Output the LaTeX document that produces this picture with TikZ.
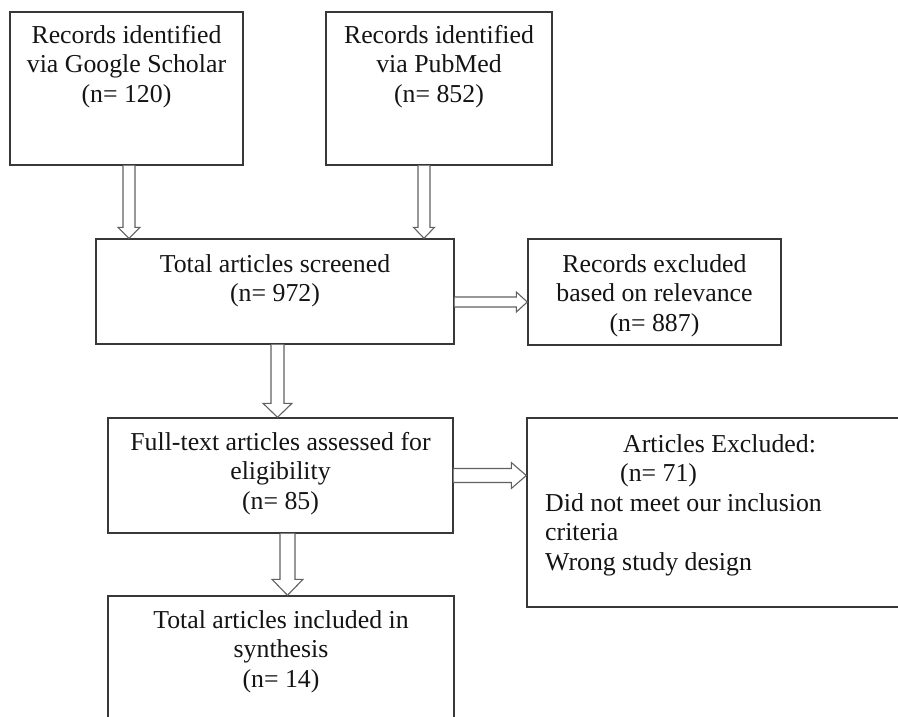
\documentclass[tikz,border=0pt]{standalone}
\usepackage{fontspec}
\setmainfont{Liberation Serif}
\usetikzlibrary{calc}
\tikzset{
  box/.style={draw=black!78, line width=1.4pt, fill=white, inner sep=0pt},
  txt/.style={font=\fontsize{25.8}{29.5}\selectfont, inner sep=0pt, anchor=north, align=center, text=black!92},
  arr/.style={draw=black!62, line width=1.1pt, fill=white, line join=miter},
  darr/.style n args={3}{to path={let \p1=(\tikztostart), \p2=(\tikztotarget) in
     (\x1-#1,\y1) -- (\x1-#1,\y2+#3) -- (\x1-#2,\y2+#3) -- (\x1,\y2) -- (\x1+#2,\y2+#3) -- (\x1+#1,\y2+#3) -- (\x1+#1,\y1)}},
  rarr/.style n args={3}{to path={let \p1=(\tikztostart), \p2=(\tikztotarget) in
     (\x1,\y1+#1) -- (\x2-#3,\y1+#1) -- (\x2-#3,\y1+#2) -- (\x2,\y1) -- (\x2-#3,\y1-#2) -- (\x2-#3,\y1-#1) -- (\x1,\y1-#1)}}
}
\begin{document}
\begin{tikzpicture}[x=1pt,y=-1pt]
\clip (0,0) rectangle (898,716);
\fill[white] (0,0) rectangle (898,716);
% boxes
\node[box, minimum width=233pt, minimum height=153pt] (gs) at (126.5,88.5) {};
\node[box, minimum width=226pt, minimum height=153pt] (pm) at (439,88.5) {};
\node[box, minimum width=358pt, minimum height=105pt] (ts) at (275,291.5) {};
\node[box, minimum width=253pt, minimum height=106pt] (ex1) at (654.5,292) {};
\node[box, minimum width=345pt, minimum height=115pt] (fa) at (280.5,475.5) {};
\node[box, minimum width=393pt, minimum height=189pt] (ex2) at (723.5,512.5) {};
\node[box, minimum width=346pt, minimum height=144pt] (inc) at (281,668) {};
% texts
\node[txt] (gst) at (126.5,22.35) {\strut Records identified\\via Google Scholar\\(n= 120)};
\node[txt] (pmt) at (439,22.35) {\strut Records identified\\via PubMed\\(n= 852)};
\node[txt] (tst) at (275,251.35) {\strut Total articles screened\\(n= 972)};
\node[txt] (ex1t) at (654.5,251.35) {\strut Records excluded\\based on relevance\\(n= 887)};
\node[txt] (fat) at (280.5,429.35) {\strut Full-text articles assessed for\\eligibility\\(n= 85)};
\node[txt] (inct) at (281,607.35) {\strut Total articles included in\\synthesis\\(n= 14)};
\node[txt, anchor=north west, align=left] (ex2t) at (545,431.35) {\strut\hspace*{78pt}Articles Excluded:\\\hspace*{75pt}(n= 71)\\Did not meet our inclusion\\criteria\\Wrong study design};
% arrows
\draw[arr, darr={6pt}{11pt}{11pt}] ([xshift=2.5pt]gs.south) to ([xshift=2.5pt]gs.south |- ts.north);
\draw[arr, darr={6pt}{10.5pt}{11pt}] ([xshift=-15pt]pm.south) to ([xshift=-15pt]pm.south |- ts.north);
\draw[arr, darr={6.5pt}{14.5pt}{14pt}] ([xshift=2.5pt]ts.south) to ([xshift=2.5pt]ts.south |- fa.north);
\draw[arr, darr={7.5pt}{15.5pt}{16pt}] ([xshift=7pt]fa.south) to ([xshift=7pt]fa.south |- inc.north);
\draw[arr, rarr={5pt}{10pt}{11pt}] ([yshift=-10.5pt]ts.east) to ([yshift=-10.5pt]ts.east -| ex1.west);
\draw[arr, rarr={7pt}{13pt}{15pt}] (fa.east) to (fa.east -| ex2.west);
\end{tikzpicture}
\end{document}
